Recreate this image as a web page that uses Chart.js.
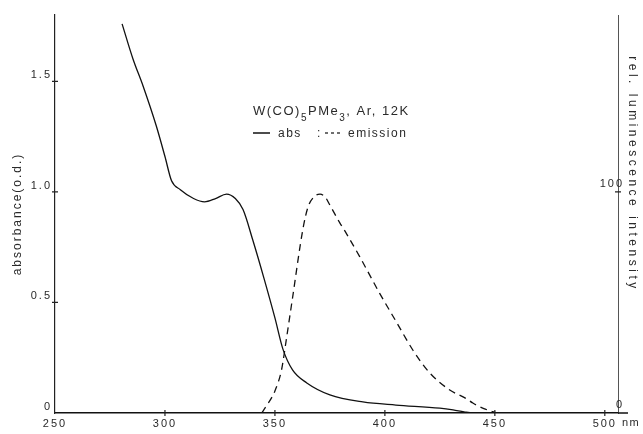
<!DOCTYPE html>
<html>
<head>
<meta charset="utf-8">
<script src="https://cdn.jsdelivr.net/npm/chart.js@4"></script>
<style>
  html, body { margin: 0; padding: 0; background: #fff; }
  canvas { display: block; }
</style>
</head>
<body>
<canvas id="specChart" width="643" height="434"></canvas>
<script>
// absorption spectrum (nm, o.d.)
const absNm  = [280.5, 285.5, 290, 296, 300, 303, 307, 313, 318, 323, 328, 332, 335.5, 340, 345, 350, 353.6, 358, 364.5, 375, 390, 405, 425, 431, 436, 440, 445];
const absVal = [1.76, 1.60, 1.48, 1.30, 1.16, 1.05, 1.01, 0.97, 0.955, 0.97, 0.99, 0.97, 0.92, 0.78, 0.61, 0.43, 0.29, 0.195, 0.136, 0.082, 0.05, 0.036, 0.022, 0.014, 0.005, 0, 0];

// emission spectrum (nm, rel. intensity)
const emNm  = [344, 346, 350, 353, 355.3, 358, 362.7, 365, 368, 370.5, 373, 375, 379.5, 382, 388.6, 397.7, 405.5, 412.7, 420.5, 429.5, 437, 440, 445, 451];
const emVal = [0, 3, 10, 19.5, 34, 52, 83, 93, 98, 99, 97.5, 94, 86, 82, 70.6, 54, 40.7, 28.5, 18, 10.4, 6.5, 4.5, 2, 0];

// ticks
const xTicks = [250, 300, 350, 400, 450, 500];
const xTickLabels = ["250", "300", "350", "400", "450", "500"];
const yTicks = [0, 0.5, 1.0, 1.5];
const yTickLabels = ["0", "0.5", "1.0", "1.5"];
const y2Ticks = [0, 100];
const y2TickLabels = ["0", "100"];

const FONT = '"Liberation Sans", Arial, Helvetica, sans-serif';
const INK = "#2a2a2a";

const canvas = document.getElementById("specChart");

// wide spacing like the old stencil lettering (canvas resize resets it, so set it every pass)
const spacing = {
  id: "spacing",
  beforeUpdate(chart) { chart.ctx.letterSpacing = "2px"; },
  beforeLayout(chart) { chart.ctx.letterSpacing = "2px"; },
  beforeDraw(chart) { chart.ctx.letterSpacing = "2px"; }
};

// ticks that cross the axis lines + extra lettering
const decorations = {
  id: "decorations",
  afterDraw(chart) {
    const ctx = chart.ctx;
    const { x, y, y2 } = chart.scales;
    const area = chart.chartArea;
    ctx.save();
    ctx.strokeStyle = "#222";
    ctx.lineWidth = 1.2;
    ctx.beginPath();
    xTicks.forEach(function (v) {
      if (v === 250) return;
      const px = x.getPixelForValue(v);
      ctx.moveTo(px, area.bottom - 3);
      ctx.lineTo(px, area.bottom + 3);
    });
    yTicks.forEach(function (v) {
      if (v === 0) return;
      const py = y.getPixelForValue(v);
      ctx.moveTo(area.left - 3, py);
      ctx.lineTo(area.left + 3, py);
    });
    y2Ticks.forEach(function (v) {
      if (v === 0) return;
      const py = y2.getPixelForValue(v);
      ctx.moveTo(area.right - 3, py);
      ctx.lineTo(area.right + 3, py);
    });
    ctx.stroke();

    // base line runs a little past the right axis
    ctx.lineWidth = 1.5;
    ctx.strokeStyle = "#111";
    ctx.beginPath();
    ctx.moveTo(area.right, area.bottom);
    ctx.lineTo(area.right + 10, area.bottom);
    ctx.stroke();

    ctx.fillStyle = INK;
    ctx.textBaseline = "middle";
    ctx.font = "11px " + FONT;
    ctx.letterSpacing = "1.5px";
    ctx.textAlign = "left";
    ctx.fillText("nm", 622, 423);

    // right axis title, reading downwards
    const rightTitle = "rel. luminescence intensity";
    ctx.font = "12px " + FONT;
    ctx.letterSpacing = "0px";
    const w = ctx.measureText(rightTitle).width;
    ctx.letterSpacing = ((232 - w) / (rightTitle.length - 1)).toFixed(2) + "px";
    ctx.translate(632, 174);
    ctx.rotate(Math.PI / 2);
    ctx.textAlign = "center";
    ctx.fillText(rightTitle, 0, 0);
    ctx.restore();

    // legend block
    ctx.save();
    ctx.fillStyle = INK;
    ctx.textBaseline = "alphabetic";
    ctx.textAlign = "left";
    ctx.letterSpacing = "1.5px";
    let cx = 253;
    const base = 115;
    const parts = [
      ["W(CO)", 13, 0], ["5", 10, 6], ["PMe", 13, 0], ["3", 10, 6], [", Ar, 12K", 13, 0]
    ];
    parts.forEach(function (p) {
      ctx.font = p[1] + "px " + FONT;
      ctx.fillText(p[0], cx, base + p[2]);
      cx += ctx.measureText(p[0]).width;
    });

    const base2 = 137;
    ctx.font = "12px " + FONT;
    ctx.strokeStyle = "#111";
    ctx.lineWidth = 1.5;
    ctx.beginPath();
    ctx.moveTo(253, base2 - 4);
    ctx.lineTo(270, base2 - 4);
    ctx.stroke();
    ctx.fillText("abs", 278, base2);
    ctx.fillText(":", 317, base2);
    ctx.lineWidth = 1.2;
    ctx.setLineDash([3, 3]);
    ctx.beginPath();
    ctx.moveTo(325, base2 - 4);
    ctx.lineTo(342, base2 - 4);
    ctx.stroke();
    ctx.setLineDash([]);
    ctx.fillText("emission", 348, base2);
    ctx.restore();
  }
};

const specChart = new Chart(canvas, {
  type: "line",
  data: {
    datasets: [
      {
        label: "abs",
        data: absNm.map((v, i) => ({ x: v, y: absVal[i] })),
        yAxisID: "y",
        borderColor: "#111",
        borderWidth: 1.3,
        pointRadius: 0,
        fill: false,
        cubicInterpolationMode: "monotone"
      },
      {
        label: "emission",
        data: emNm.map((v, i) => ({ x: v, y: emVal[i] })),
        yAxisID: "y2",
        borderColor: "#111",
        borderWidth: 1.3,
        borderDash: [7, 5],
        pointRadius: 0,
        fill: false,
        cubicInterpolationMode: "monotone"
      }
    ]
  },
  options: {
    responsive: false,
    animation: false,
    devicePixelRatio: 1,
    layout: { padding: { top: 15, left: 0, right: 0, bottom: 0 } },
    plugins: {
      legend: { display: false },
      tooltip: { enabled: false }
    },
    scales: {
      x: {
        type: "linear",
        min: 250,
        max: 506,
        afterBuildTicks: (s) => { s.ticks = xTicks.map((v) => ({ value: v })); },
        afterFit: (s) => { s.height = 21; },
        grid: { display: false, drawTicks: false },
        border: { color: "#111", width: 1.5 },
        ticks: {
          autoSkip: false,
          maxRotation: 0,
          padding: 4,
          color: INK,
          font: { family: FONT, size: 11 },
          callback: (v) => xTickLabels[xTicks.indexOf(v)] ?? ""
        }
      },
      y: {
        position: "left",
        min: 0,
        max: 1.8,
        afterBuildTicks: (s) => { s.ticks = yTicks.map((v) => ({ value: v })); },
        afterFit: (s) => { s.width = 55; },
        grid: { display: false, drawTicks: false },
        border: { color: "#222", width: 1.2 },
        ticks: {
          padding: 3,
          labelOffset: -6,
          color: INK,
          font: { family: FONT, size: 11 },
          callback: (v) => yTickLabels[yTicks.indexOf(v)] ?? ""
        },
        title: {
          display: true,
          text: "absorbance(o.d.)",
          color: INK,
          font: { family: FONT, size: 12 },
          padding: { top: 10, bottom: 0 }
        }
      },
      y2: {
        position: "right",
        min: 0,
        max: 180,
        afterBuildTicks: (s) => { s.ticks = y2Ticks.map((v) => ({ value: v })); },
        afterFit: (s) => { s.width = 25; },
        grid: { display: false, drawTicks: false },
        border: { color: "#555", width: 1 },
        ticks: {
          mirror: true,
          padding: 6,
          labelOffset: -8,
          color: INK,
          font: { family: FONT, size: 11 },
          callback: (v) => y2TickLabels[y2Ticks.indexOf(v)] ?? ""
        }
      }
    }
  },
  plugins: [spacing, decorations]
});
</script>
</body>
</html>
